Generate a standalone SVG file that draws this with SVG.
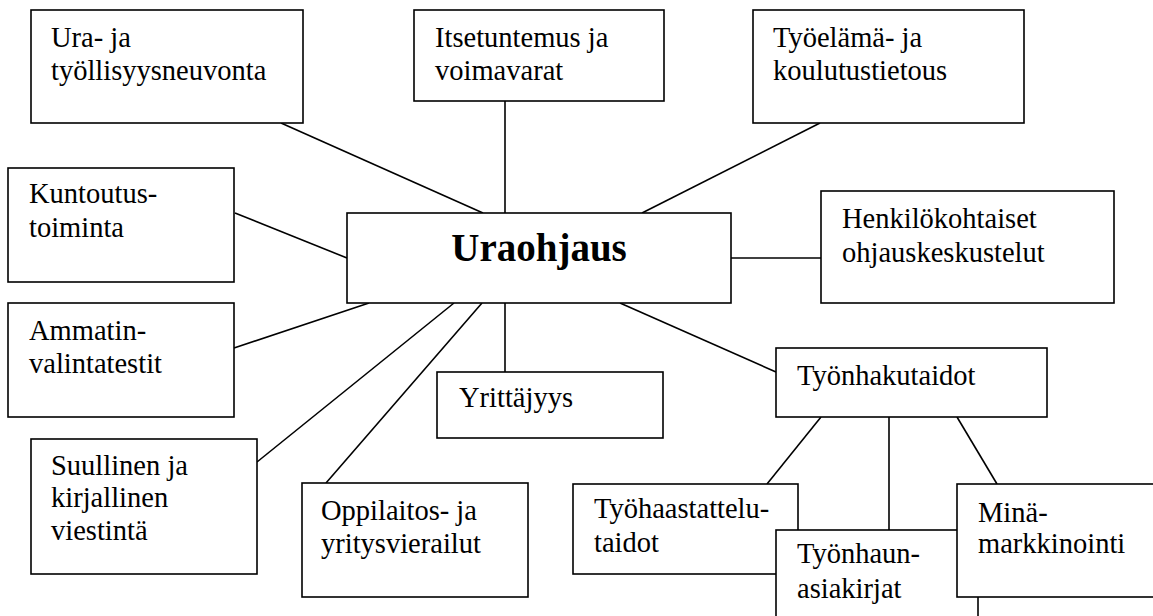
<svg xmlns="http://www.w3.org/2000/svg" width="1153" height="616" viewBox="0 0 1153 616">
<style>
.box{fill:#fff;stroke:#000;stroke-width:1.6}
.c line{stroke:#000;stroke-width:1.6}
.t{font-family:'Liberation Serif', 'Times New Roman', Times, serif;font-size:28.5px;fill:#000}
.main{font-weight:bold;font-size:39px;text-anchor:middle}
</style>
<rect width="1153" height="616" fill="#fff"/>
<g id="connectors" class="c">
<line x1="281" y1="123" x2="483" y2="213"/>
<line x1="505" y1="101" x2="505" y2="213"/>
<line x1="820" y1="123" x2="642" y2="213"/>
<line x1="235" y1="213" x2="347" y2="258"/>
<line x1="731" y1="258" x2="821" y2="258"/>
<line x1="234" y1="348" x2="369" y2="303"/>
<line x1="257" y1="462" x2="454" y2="303"/>
<line x1="326" y1="483" x2="482" y2="303"/>
<line x1="505" y1="303" x2="505" y2="372"/>
<line x1="620" y1="303" x2="776" y2="372"/>
<line x1="821" y1="417" x2="767" y2="484"/>
<line x1="889" y1="417" x2="889" y2="530"/>
<line x1="957" y1="417" x2="997" y2="484"/>
</g>
<g id="ura">
<rect class="box" x="31" y="10" width="272" height="113"/>
<text class="t" x="51" y="47">Ura- ja</text>
<text class="t" x="51" y="80">työllisyysneuvonta</text>
</g>
<g id="itsetuntemus">
<rect class="box" x="414" y="10" width="250" height="91"/>
<text class="t" x="435" y="47">Itsetuntemus ja</text>
<text class="t" x="435" y="80">voimavarat</text>
</g>
<g id="tyoelama">
<rect class="box" x="753" y="10" width="271" height="113"/>
<text class="t" x="773" y="47">Työelämä- ja</text>
<text class="t" x="773" y="80">koulutustietous</text>
</g>
<g id="kuntoutus">
<rect class="box" x="8" y="168" width="226" height="114"/>
<text class="t" x="29" y="203">Kuntoutus-</text>
<text class="t" x="29" y="237">toiminta</text>
</g>
<g id="uraohjaus">
<rect class="box" x="347" y="213" width="384" height="90"/>
<text class="t main" x="539" y="261">Uraohjaus</text>
</g>
<g id="henkilokohtaiset">
<rect class="box" x="821" y="191" width="293" height="112"/>
<text class="t" x="842" y="228">Henkilökohtaiset</text>
<text class="t" x="842" y="262">ohjauskeskustelut</text>
</g>
<g id="ammatin">
<rect class="box" x="8" y="303" width="226" height="114"/>
<text class="t" x="29" y="340">Ammatin-</text>
<text class="t" x="29" y="373">valintatestit</text>
</g>
<g id="suullinen">
<rect class="box" x="31" y="439" width="226" height="135"/>
<text class="t" x="51" y="475">Suullinen ja</text>
<text class="t" x="51" y="507">kirjallinen</text>
<text class="t" x="51" y="540">viestintä</text>
</g>
<g id="oppilaitos">
<rect class="box" x="302" y="483" width="226" height="114"/>
<text class="t" x="321" y="520">Oppilaitos- ja</text>
<text class="t" x="321" y="553">yritysvierailut</text>
</g>
<g id="yrittajyys">
<rect class="box" x="437" y="372" width="226" height="66"/>
<text class="t" x="459" y="407">Yrittäjyys</text>
</g>
<g id="tyonhakutaidot">
<rect class="box" x="776" y="348" width="271" height="69"/>
<text class="t" x="797" y="385">Työnhakutaidot</text>
</g>
<g id="tyohaastattelu">
<rect class="box" x="573" y="484" width="225" height="90"/>
<text class="t" x="594" y="518">Työhaastattelu-</text>
<text class="t" x="594" y="552">taidot</text>
</g>
<g id="tyonhaun">
<rect class="box" x="776" y="530" width="202" height="120"/>
<text class="t" x="797" y="563">Työnhaun-</text>
<text class="t" x="797" y="598">asiakirjat</text>
</g>
<g id="mina">
<rect class="box" x="957" y="484" width="230" height="113"/>
<text class="t" x="978" y="522">Minä-</text>
<text class="t" x="978" y="553">markkinointi</text>
</g>
</svg>
